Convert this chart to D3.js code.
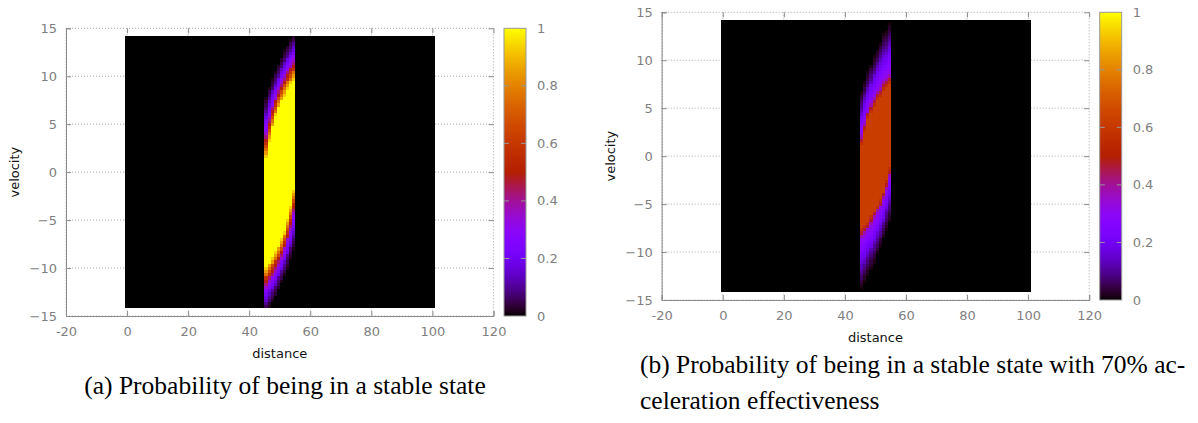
<!DOCTYPE html>
<html>
<head>
<meta charset="utf-8">
<script src="https://cdn.jsdelivr.net/npm/d3@7/dist/d3.min.js"></script>
<style>
body { margin: 0; background: #fff; }
svg { display: block; }
.tick text { font-family: "DejaVu Sans", sans-serif; font-size: 13px; fill: #808080; }
.axis-title { font-family: "DejaVu Sans", sans-serif; font-size: 13px; fill: #111; }
.caption { font-family: "Liberation Serif", serif; font-size: 25.5px; fill: #000; }
</style>
</head>
<body>
<svg id="chart" width="1198" height="423"></svg>
<script>

// heat map grid: distance cells 0..99, velocity rows over -14.2..14.2
var heatX = [-0.68, 100.8];
var heatY = [-14.2, 14.2];
var colCount = 100;
var rowCount = 85;

// the only non zero columns (cell index)
var bandCols = [45, 46, 47, 48, 49, 50, 51, 52, 53, 54];

// (a) plateau value and, per column, velocity where the plateau ends / the fade ends
var plateauA = 1.0;
var upperA = [1.4, 3.2, 4.7, 5.8, 6.7, 7.4, 8.0, 8.6, 9.1, 9.6];
var upperOuterA = [8.0, 9.0, 9.8, 10.6, 11.3, 12.0, 12.7, 13.3, 13.9, 14.5];
var lowerA = [-9.9, -9.4, -8.9, -8.3, -7.7, -7.0, -6.1, -5.0, -3.5, -1.7];
var lowerOuterA = [-14.8, -14.2, -13.6, -13.0, -12.3, -11.6, -10.9, -10.1, -9.3, -8.3];
var rampA = [0.93, 0.85, 0.76, 0.66, 0.57, 0.49, 0.42, 0.35, 0.3, 0.26, 0.22, 0.18, 0.14, 0.1, 0.07, 0.05, 0.03, 0.015];

// (b) 70% acceleration effectiveness
var plateauB = 0.62;
var upperB = [1.2, 2.6, 3.8, 4.6, 5.2, 5.8, 6.3, 6.8, 7.2, 7.6];
var upperOuterB = [6.8, 7.8, 8.7, 9.6, 10.4, 11.2, 12.0, 12.7, 13.3, 13.9];
var lowerB = [-7.5, -7.1, -6.7, -6.2, -5.7, -5.1, -4.5, -3.7, -2.5, -1.1];
var lowerOuterB = [-13.8, -13.2, -12.6, -11.9, -11.1, -10.3, -9.5, -8.6, -7.7, -6.7];
var rampB = [0.56, 0.47, 0.38, 0.32, 0.29, 0.27, 0.25, 0.23, 0.21, 0.19, 0.16, 0.13, 0.1, 0.08, 0.06, 0.04, 0.025, 0.01];

var xTicks = [-20, 0, 20, 40, 60, 80, 100, 120];
var yTicks = [-15, -10, -5, 0, 5, 10, 15];
var cbTicks = [0, 0.2, 0.4, 0.6, 0.8, 1];

var captionA = "(a) Probability of being in a stable state";
var captionB = ["(b) Probability of being in a stable state with 70% ac-", "celeration effectiveness"];

var plotW = 427.5, plotH = 287.7;
var gridColor = "#a8a8a8", borderColor = "#8c8c8c";

// gnuplot default palette (rgbformulae 7,5,15)
function palette(t) {
    var r = Math.sqrt(t), g = t * t * t, b = Math.sin(2 * Math.PI * t);
    var c = function(v) { return Math.round(255 * Math.max(0, Math.min(1, v))); };
    return d3.rgb(c(r), c(g), c(b)).formatHex();
}

var x = d3.scaleLinear().domain([-20, 120]).range([0, plotW]);
var y = d3.scaleLinear().domain([-15, 15]).range([plotH, 0]);
var cellX = d3.scaleBand().domain(d3.range(colCount)).range([x(heatX[0]), x(heatX[1])]);
var cellY = d3.scaleBand().domain(d3.range(rowCount)).range([y(heatY[0]), y(heatY[1])]);
var rowH = (heatY[1] - heatY[0]) / rowCount;

function cellValue(p, ci, r) {
    var j = bandCols.indexOf(ci);
    if (j < 0) return 0;
    var v = heatY[0] + (r + 0.5) * rowH;
    if (v <= p.upper[j] && v >= p.lower[j]) return p.plateau;
    var f;
    if (v > p.upper[j]) f = (v - p.upper[j]) / (p.upperOuter[j] - p.upper[j]);
    else f = (p.lower[j] - v) / (p.lower[j] - p.lowerOuter[j]);
    var k = Math.floor(f * p.ramp.length);
    return k < p.ramp.length ? p.ramp[k] : 0;
}

var panels = [
    {id: "a", left: 66, top: 28.3, plateau: plateauA, upper: upperA, upperOuter: upperOuterA,
     lower: lowerA, lowerOuter: lowerOuterA, ramp: rampA},
    {id: "b", left: 661.7, top: 12.3, plateau: plateauB, upper: upperB, upperOuter: upperOuterB,
     lower: lowerB, lowerOuter: lowerOuterB, ramp: rampB}
];

var svg = d3.select("#chart");

// colour bar gradient
var grad = svg.append("defs").append("linearGradient")
    .attr("id", "cbGrad").attr("x1", 0).attr("y1", 1).attr("x2", 0).attr("y2", 0);
d3.range(0, 1.0001, 0.02).forEach(function(t) {
    grad.append("stop").attr("offset", t).attr("stop-color", palette(t));
});

panels.forEach(function(p) {
    var g = svg.append("g").attr("transform", "translate(" + p.left + "," + p.top + ")");

    // dotted grid
    g.append("g").selectAll("line.gx").data(xTicks).enter().append("line")
        .attr("x1", function(d) { return x(d); }).attr("x2", function(d) { return x(d); })
        .attr("y1", 0).attr("y2", plotH)
        .attr("stroke", gridColor).attr("stroke-dasharray", "1,2");
    g.append("g").selectAll("line.gy").data(yTicks).enter().append("line")
        .attr("y1", function(d) { return y(d); }).attr("y2", function(d) { return y(d); })
        .attr("x1", 0).attr("x2", plotW)
        .attr("stroke", gridColor).attr("stroke-dasharray", "1,2");

    // heat map cells
    var cells = [];
    for (var ci = 0; ci < colCount; ci++) {
        for (var r = 0; r < rowCount; r++) {
            cells.push({c: ci, r: r, v: cellValue(p, ci, r)});
        }
    }
    g.append("g").attr("shape-rendering", "crispEdges")
        .selectAll("rect").data(cells).enter().append("rect")
        .attr("x", function(d) { return cellX(d.c); })
        .attr("y", function(d) { return cellY(d.r); })
        .attr("width", cellX.bandwidth() + 0.05)
        .attr("height", cellY.bandwidth() + 0.05)
        .attr("fill", function(d) { return palette(d.v); });

    // axes
    var ax = g.append("g").attr("transform", "translate(0," + plotH + ")")
        .call(d3.axisBottom(x).tickValues(xTicks).tickSize(-5).tickPadding(11).tickFormat(d3.format("d")));
    var ay = g.append("g")
        .call(d3.axisLeft(y).tickValues(yTicks).tickSize(-5).tickPadding(9).tickFormat(d3.format("d")));
    var at = g.append("g")
        .call(d3.axisTop(x).tickValues(xTicks).tickSize(-5).tickFormat(""));
    var ar = g.append("g").attr("transform", "translate(" + plotW + ",0)")
        .call(d3.axisRight(y).tickValues(yTicks).tickSize(-5).tickFormat(""));
    [ax, ay, at, ar].forEach(function(a) {
        a.selectAll(".tick line").attr("stroke", borderColor);
    });
    at.select(".domain").remove();
    ar.select(".domain").remove();
    ax.select(".domain").attr("stroke", borderColor);
    ay.select(".domain").attr("stroke", borderColor);
    ax.selectAll(".tick text").text(function(d) { return d; });

    g.append("text").attr("class", "axis-title")
        .attr("x", plotW / 2).attr("y", plotH + 42)
        .attr("text-anchor", "middle").text("distance");
    g.append("text").attr("class", "axis-title")
        .attr("transform", "translate(-47," + (plotH / 2) + ") rotate(-90)")
        .attr("text-anchor", "middle").text("velocity");

    // colour bar
    var cb = g.append("g").attr("transform", "translate(" + (plotW + 10.5) + ",0)");
    var cbW = 22;
    var cbY = d3.scaleLinear().domain([0, 1]).range([plotH, 0]);
    cb.append("rect").attr("width", cbW).attr("height", plotH)
        .attr("fill", "url(#cbGrad)").attr("stroke", "#999").attr("stroke-width", 1);
    var inner = cbTicks.slice(1, -1);
    cb.selectAll("line.l").data(inner).enter().append("line")
        .attr("x1", 0).attr("x2", 5)
        .attr("y1", function(d) { return cbY(d); }).attr("y2", function(d) { return cbY(d); })
        .attr("stroke", "#999");
    cb.selectAll("line.r").data(inner).enter().append("line")
        .attr("x1", cbW - 5).attr("x2", cbW)
        .attr("y1", function(d) { return cbY(d); }).attr("y2", function(d) { return cbY(d); })
        .attr("stroke", "#999");
    cb.selectAll("text").data(cbTicks).enter().append("text")
        .attr("x", cbW + 11)
        .attr("y", function(d) { return cbY(d); })
        .attr("dy", "0.35em")
        .style("font-family", "DejaVu Sans, sans-serif").style("font-size", "13px")
        .attr("fill", "#808080")
        .text(function(d) { return d; });
});

// captions
svg.append("text").attr("class", "caption")
    .attr("x", 285).attr("y", 394).attr("text-anchor", "middle").text(captionA);
svg.append("text").attr("class", "caption")
    .attr("x", 640).attr("y", 373).text(captionB[0]);
svg.append("text").attr("class", "caption")
    .attr("x", 640).attr("y", 409).text(captionB[1]);
</script>
</body>
</html>
